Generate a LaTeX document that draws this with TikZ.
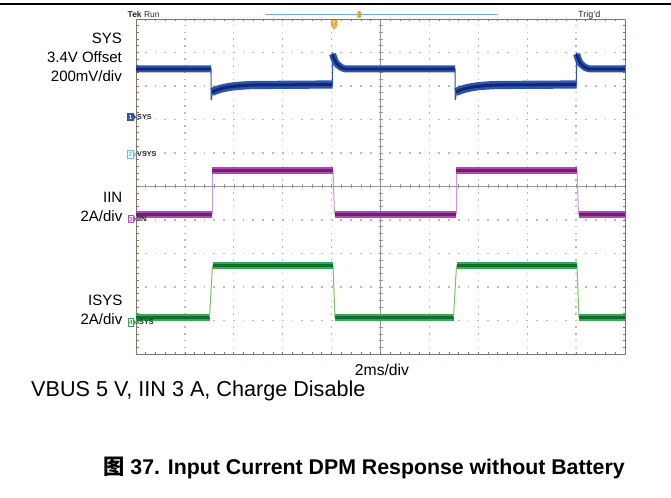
\documentclass[tikz,border=0pt]{standalone}
\usepackage{fontspec}
\setmainfont{Liberation Sans}
\newfontfamily\cjk{Noto Sans CJK SC}
\definecolor{bord}{RGB}{140,112,100}
\definecolor{gdot}{RGB}{185,185,185}
\definecolor{cline}{RGB}{150,150,150}
\definecolor{bluO}{RGB}{45,85,175}
\definecolor{bluI}{RGB}{18,38,120}
\definecolor{magO}{RGB}{175,75,175}
\definecolor{magI}{RGB}{115,30,115}
\definecolor{magT}{RGB}{205,150,215}
\definecolor{grnO}{RGB}{55,170,80}
\definecolor{grnI}{RGB}{15,110,45}
\definecolor{grnT}{RGB}{130,190,90}
\definecolor{tblue}{RGB}{110,170,225}
\definecolor{torange}{RGB}{240,160,50}
\definecolor{chtwo}{RGB}{90,200,225}
\definecolor{txtg}{RGB}{40,40,40}
\tikzset{
  lbl/.style={inner sep=0pt, font=\fontsize{15bp}{17bp}\selectfont},
  griddot/.style={gdot, line width=1.3bp},
  centerln/.style={cline, line width=0.6bp},
  tickln/.style={cline, line width=0.6bp},
  bordln/.style={bord, line width=0.8bp},
  bluetr/.style={draw=bluO, double=bluI, double distance=2.6bp, line width=2.2bp},
  bluelow/.style={draw=bluO, double=bluI, double distance=3bp, line width=2.6bp},
  bluethin/.style={bluO, line width=1.1bp},
  magtr/.style={draw=magO, double=magI, double distance=2.4bp, line width=2.2bp},
  magthin/.style={magT, line width=1bp},
  grntr/.style={draw=grnO, double=grnI, double distance=2.4bp, line width=2.3bp},
  grnthin/.style={grnT, line width=1bp},
  chbox/.style={draw, line width=0.6bp, minimum width=5.5bp, minimum height=7.5bp, inner sep=0pt, font=\fontsize{6bp}{6bp}\selectfont\bfseries},
  chlbl/.style={inner sep=0pt, anchor=west, text=txtg, font=\fontsize{7.2bp}{8bp}\selectfont\bfseries},
}
\begin{document}
\begin{tikzpicture}[x=1bp,y=-1bp]
\useasboundingbox (0,0) rectangle (671,498);
% top rule
\draw[line width=1.3bp] (0,4) -- (671,4);
% grid dots
\foreach \i in {1,2,3,4,6,7,8,9}
  \draw[griddot, dash pattern=on 1.5bp off 5.2bp, dash phase=0.75bp] ({136+48.9*\i},19) -- ({136+48.9*\i},354);
\foreach \j in {1,2,3,4,6,7,8,9}
  \draw[griddot, dash pattern=on 1.8bp off 7.98bp, dash phase=0.9bp] (136,{19+33.5*\j}) -- (625,{19+33.5*\j});
% center lines
\draw[centerln] (380.5,19) -- (380.5,354);
\draw[centerln] (136,186.5) -- (625,186.5);
\foreach \k in {1,...,49} {
  \draw[tickln] ({136+9.78*\k},184.5) -- ++(0,4);
  \draw[tickln] (378.5,{19+6.7*\k}) -- ++(4,0);
  \draw[bordln] ({136+9.78*\k},19) -- ++(0,2.5);
  \draw[bordln] ({136+9.78*\k},354) -- ++(0,-2.5);
  \draw[bordln] (136,{19+6.7*\k}) -- ++(2.5,0);
  \draw[bordln] (625,{19+6.7*\k}) -- ++(-2.5,0);
}
\draw[bordln] (136,19) rectangle (625,354);
% header
\node[inner sep=0pt, anchor=base west, text=txtg, font=\fontsize{8.5bp}{9bp}\selectfont] (tek) at (127.5,17.3) {\textbf{Tek} Run};
\node[inner sep=0pt, anchor=base west, text=txtg, font=\fontsize{9bp}{9bp}\selectfont] (trig) at (578,17.3) {Trig'd};
\coordinate (tl) at (265,14.3);
\coordinate (tr) at (498,14.3);
\draw[tblue, line width=1bp] (tl) -- (tr);
\node[fill=torange, rounded corners=1bp, minimum width=3.5bp, minimum height=7bp, inner sep=0pt] (pos) at (359,14.5) {};
\fill[torange] (331,20.5) rectangle (337,26.5);
\fill[torange] (331,26.5) -- (337,26.5) -- (334,29.5) -- cycle;
\node[inner sep=0pt, text=white, font=\fontsize{5.5bp}{6bp}\selectfont\bfseries] (trg) at (334,24) {T};
% traces
\begin{scope}
\clip (136,15) rectangle (625,354);
\foreach \s in {-244,0,244} {
  % SYS (blue)
  \draw[bluethin] ({211+\s},69) -- ({211.3+\s},100) -- ({212.5+\s},92);
  \draw[bluelow] ({212+\s},92) .. controls ({220+\s},88) and ({232+\s},85.5) .. ({255+\s},85) -- ({332.5+\s},84.5);
  \draw[bluethin] ({332.3+\s},86) -- ({332.6+\s},52.5);
  \draw[bluetr] ({332.6+\s},54) .. controls ({335+\s},63) and ({338+\s},67.5) .. ({346+\s},69) -- ({455+\s},69);
  % IIN (magenta)
  \draw[magthin] ({212+\s},214.5) -- ({212+\s},170.5);
  \draw[magthin] ({333+\s},170.5) -- ({334.5+\s},214.5);
  \draw[magtr] ({212+\s},170.5) -- ({333+\s},170.5);
  \draw[magtr] ({334.5+\s},214.5) -- ({456+\s},214.5);
  % ISYS (green)
  \draw[grnthin] ({209.5+\s},317.3) -- ({212.5+\s},265.5);
  \draw[grnthin] ({333+\s},265.5) -- ({335+\s},317.3);
  \draw[grntr] ({212.5+\s},265.5) -- ({333+\s},265.5);
  \draw[grntr] ({335+\s},317.3) -- ({453.5+\s},317.3);
}
\end{scope}
% channel markers
\node[chbox, draw=bluO, fill=bluO, text=white] (c1) at (130.5,117) {1};
\fill[bluO] (133.3,113.5) -- (136,117) -- (133.3,120.5) -- cycle;
\node[chlbl] (c1l) at (137,117) {SYS};
\node[chbox, draw=chtwo, fill=white, text=chtwo] (c2) at (130.5,154.5) {2};
\fill[chtwo] (133.3,151) -- (136,154.5) -- (133.3,158) -- cycle;
\node[chlbl] (c2l) at (137,154.5) {VSYS};
\node[chbox, draw=magO, fill=white, text=magO] (c3) at (130.8,219) {3};
\fill[magO] (133.6,215.5) -- (136,219) -- (133.6,222.5) -- cycle;
\node[chlbl] (c3l) at (137,219) {IIN};
\node[chbox, draw=grnO, fill=white, text=grnO] (c4) at (130.8,322.5) {4};
\fill[grnO] (133.6,319) -- (136,322.5) -- (133.6,326) -- cycle;
\node[chlbl] (c4l) at (137,322.5) {ISYS};
% left labels
\node[lbl, anchor=base east] (l1) at (122,43.5) {SYS};
\node[lbl, anchor=base east] (l2) at (122,62.5) {3.4V Offset};
\node[lbl, anchor=base east] (l3) at (122,82) {200mV/div};
\node[lbl, anchor=base east] (l4) at (122.5,202.5) {IIN};
\node[lbl, anchor=base east] (l5) at (122.5,222) {2A/div};
\node[lbl, anchor=base east] (l6) at (122.5,305) {ISYS};
\node[lbl, anchor=base east] (l7) at (122.5,324.5) {2A/div};
% bottom texts
\node[inner sep=0pt, anchor=base, font=\fontsize{15.7bp}{17bp}\selectfont] (tdiv) at (382,375) {2ms/div};
\node[inner sep=0pt, anchor=base west, font=\fontsize{21.6bp}{23bp}\selectfont] (cond) at (31,396) {VBUS 5 V, IIN 3 A, Charge Disable};
\node[inner sep=0pt, anchor=base west, font=\fontsize{21.3bp}{23bp}\selectfont\bfseries] (cap) at (103,474.7) {{\cjk 图} 37. Input Current DPM Response without Battery};
\end{tikzpicture}
\end{document}
